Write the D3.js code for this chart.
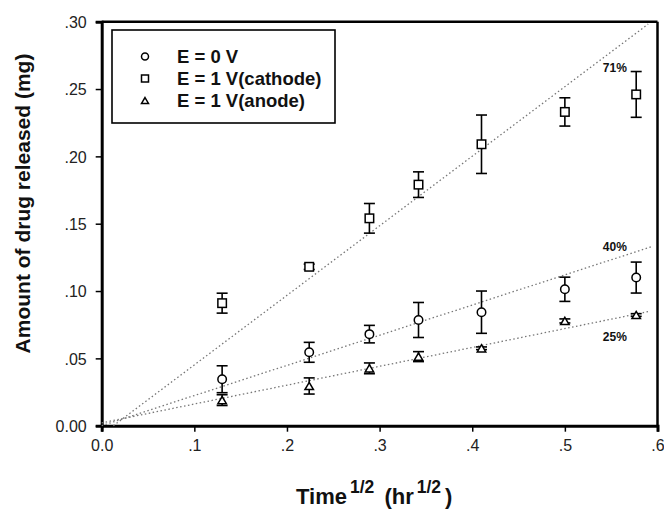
<!DOCTYPE html>
<html><head><meta charset="utf-8">
<script src="https://cdn.jsdelivr.net/npm/d3@7"></script>
<style>body{margin:0;background:#fff}svg{display:block}</style>
</head><body>
<script>
// ---- data ----
const times = [0.13, 0.224, 0.289, 0.342, 0.41, 0.5, 0.577]; // hr^1/2
const seriesNames = ["E = 0 V", "E = 1 V(cathode)", "E = 1 V(anode)"];
const symbols = ["circle", "square", "triangle"];
const zeroV = [0.0345, 0.0545, 0.068, 0.0785, 0.0843, 0.1013, 0.110];
const zeroVErr = [0.010, 0.0074, 0.0065, 0.013, 0.0157, 0.009, 0.0115];
const cathode = [0.091, 0.118, 0.154, 0.179, 0.209, 0.233, 0.246];
const cathodeErr = [0.0074, 0.002, 0.011, 0.0095, 0.0217, 0.0105, 0.017];
const anode = [0.019, 0.0295, 0.0426, 0.0513, 0.0575, 0.0778, 0.0822];
const anodeErr = [0.004, 0.006, 0.004, 0.0037, 0.001, 0.0015, 0.001];
// fitted lines: slope, intercept, x end
const fitSlope = [0.224, 0.5165, 0.140];
const fitIntercept = [0.0, -0.0065, 0.0021];
const fitXEnd = [0.595, 0.59, 0.59];
const pctLabels = ["40%", "71%", "25%"];
const pctAt = [[0.541, 0.130], [0.541, 0.263], [0.541, 0.063]];
const xTicks = [0, 0.1, 0.2, 0.3, 0.4, 0.5, 0.6];
const yTicks = [0, 0.05, 0.10, 0.15, 0.20, 0.25, 0.30];

const W = 664, H = 515;
const FONT = "Arial, 'Liberation Sans', sans-serif";
const svg = d3.select("body").append("svg").attr("width", W).attr("height", H);
const x = d3.scaleLinear().domain([0, 0.6]).range([101.7, 657.5]);
const y = d3.scaleLinear().domain([0, 0.3]).range([425.7, 21.7]);

// frame top/right
svg.append("line").attr("x1", x(0)).attr("x2", x(0.6)).attr("y1", y(0.3)).attr("y2", y(0.3))
  .attr("stroke", "#000").attr("stroke-width", 2.5);
svg.append("line").attr("x1", x(0.6)).attr("x2", x(0.6)).attr("y1", y(0.3)).attr("y2", y(0))
  .attr("stroke", "#000").attr("stroke-width", 2.5);

const fmtY = d => d === 0 ? "0.00" : d3.format(".2f")(d).replace(/^0/, "");
const fmtX = d => d === 0 ? "0.0" : d3.format(".1f")(d).replace(/^0/, "");

const gx = svg.append("g").attr("transform", `translate(0,${y(0)})`)
  .call(d3.axisBottom(x).tickValues(xTicks).tickFormat(fmtX).tickSize(6).tickPadding(8));
const gy = svg.append("g").attr("transform", `translate(${x(0)},0)`)
  .call(d3.axisLeft(y).tickValues(yTicks).tickFormat(fmtY).tickSize(6).tickPadding(9));
[gx, gy].forEach(g => {
  g.select(".domain").attr("stroke", "#000").attr("stroke-width", 3);
  g.selectAll(".tick line").attr("stroke", "#000").attr("stroke-width", 1.5);
  g.selectAll(".tick text").attr("font-family", FONT)
    .attr("font-size", 16).attr("fill", "#222");
});
gy.selectAll(".tick text").attr("dy", "0.36em");

// fit lines
fitSlope.forEach((s, i) => {
  const x0 = Math.max(0, -fitIntercept[i] / s);
  svg.append("line")
    .attr("x1", x(x0)).attr("y1", y(fitIntercept[i] + s * x0))
    .attr("x2", x(fitXEnd[i])).attr("y2", y(fitIntercept[i] + s * fitXEnd[i]))
    .attr("stroke", "#777").attr("stroke-width", 1.3).attr("stroke-dasharray", "1.5,2.5");
});

// pct labels
pctLabels.forEach((t, i) => {
  svg.append("text").attr("x", x(pctAt[i][0])).attr("y", y(pctAt[i][1]))
    .attr("font-family", FONT).attr("font-weight", "bold").attr("font-size", 12)
    .attr("fill", "#111").text(t);
});

// data
const allVals = [zeroV, cathode, anode];
const allErr = [zeroVErr, cathodeErr, anodeErr];
function drawSymbol(g, type, cx, cy, s) {
  if (type === "circle") {
    g.append("circle").attr("cx", cx).attr("cy", cy).attr("r", s * 0.5)
      .attr("fill", "#fff").attr("stroke", "#000").attr("stroke-width", 1.5);
  } else if (type === "square") {
    g.append("rect").attr("x", cx - s / 2).attr("y", cy - s / 2).attr("width", s).attr("height", s)
      .attr("fill", "#fff").attr("stroke", "#000").attr("stroke-width", 1.5);
  } else {
    const h = s * 0.85;
    g.append("path").attr("d", `M${cx},${cy - h / 2}L${cx + s / 2},${cy + h / 2}L${cx - s / 2},${cy + h / 2}Z`)
      .attr("fill", "#fff").attr("stroke", "#000").attr("stroke-width", 1.5);
  }
}
allVals.forEach((vals, si) => {
  const g = svg.append("g");
  vals.forEach((v, j) => {
    const cx = x(times[j]), e = allErr[si][j];
    const yt = y(v + e), yb = y(v - e);
    g.append("line").attr("x1", cx).attr("x2", cx).attr("y1", yt).attr("y2", yb)
      .attr("stroke", "#000").attr("stroke-width", 1.6);
    [yt, yb].forEach(yy => g.append("line").attr("x1", cx - 5.5).attr("x2", cx + 5.5)
      .attr("y1", yy).attr("y2", yy).attr("stroke", "#000").attr("stroke-width", 1.6));
    drawSymbol(g, symbols[si], cx, y(v), 8.5);
  });
});

// legend
const lg = svg.append("g");
lg.append("rect").attr("x", 112).attr("y", 30).attr("width", 223).attr("height", 93)
  .attr("fill", "#fff").attr("stroke", "#000").attr("stroke-width", 1.6);
seriesNames.forEach((n, i) => {
  const cy = 56.5 + i * 22;
  drawSymbol(lg, symbols[i], 145, cy, 7);
  lg.append("text").attr("x", 177).attr("y", cy + 6.5)
    .attr("font-family", FONT).attr("font-weight", "bold")
    .attr("font-size", 18.5).attr("fill", "#111").text(n);
});

// axis titles
svg.append("text").attr("transform", "translate(30,203.5) rotate(-90)")
  .attr("text-anchor", "middle").attr("font-family", FONT)
  .attr("font-weight", "bold").attr("font-size", 21).attr("fill", "#111")
  .text("Amount of drug released (mg)");
const xt = svg.append("text").attr("x", 296).attr("y", 504)
  .attr("font-family", FONT).attr("font-weight", "bold")
  .attr("font-size", 22).attr("fill", "#111");
xt.append("tspan").text("Time");
xt.append("tspan").attr("font-size", 17.5).attr("dx", 3).attr("dy", -11).text("1/2");
xt.append("tspan").attr("dx", 4).attr("dy", 11).text(" (hr");
xt.append("tspan").attr("font-size", 17.5).attr("dx", 3).attr("dy", -11).text("1/2");
xt.append("tspan").attr("dx", 4).attr("dy", 11).text(")");
</script>
</body></html>
